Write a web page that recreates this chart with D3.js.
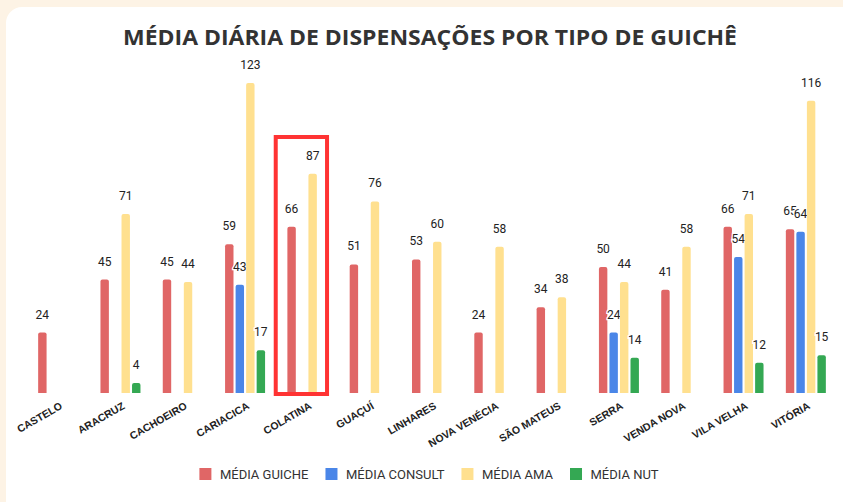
<!DOCTYPE html>
<html>
<head>
<meta charset="utf-8">
<script src="https://cdn.jsdelivr.net/npm/d3@7"></script>
<style>
  html, body { margin: 0; padding: 0; background: #fdf3e5; }
  svg { display: block; }
</style>
</head>
<body>
<svg id="chart" width="843" height="502"></svg>
<script>
// data
const categories = ["CASTELO", "ARACRUZ", "CACHOEIRO", "CARIACICA", "COLATINA", "GUAÇUÍ", "LINHARES",
    "NOVA VENÉCIA", "SÃO MATEUS", "SERRA", "VENDA NOVA", "VILA VELHA", "VITÓRIA"];
const seriesNames = ["MÉDIA GUICHE", "MÉDIA CONSULT", "MÉDIA AMA", "MÉDIA NUT"];
const mediaGuiche  = [24, 45, 45, 59, 66, 51, 53, 24, 34, 50, 41, 66, 65];
const mediaConsult = [null, null, null, 43, null, null, null, null, null, 24, null, 54, 64];
const mediaAma     = [null, 71, 44, 123, 87, 76, 60, 58, 38, 44, 58, 71, 116];
const mediaNut     = [null, 4, null, 17, null, null, null, null, null, 14, null, 12, 15];
const highlighted = "COLATINA";

const colors = ["#e06666", "#4a86e8", "#ffe08f", "#34a853"];
const series = [mediaGuiche, mediaConsult, mediaAma, mediaNut];

const svg = d3.select("#chart");
const baseline = 393;

// white card
svg.append("rect")
    .attr("x", 6).attr("y", 7)
    .attr("width", 860).attr("height", 510)
    .attr("rx", 16)
    .attr("fill", "#ffffff");

svg.append("text")
    .attr("x", 430).attr("y", 45)
    .attr("text-anchor", "middle")
    .attr("font-family", "Open Sans")
    .attr("font-weight", "bold")
    .attr("font-size", "22px")
    .attr("textLength", 614)
    .attr("lengthAdjust", "spacingAndGlyphs")
    .attr("fill", "#333333")
    .text("MÉDIA DIÁRIA DE DISPENSAÇÕES POR TIPO DE GUICHÊ");

const x0 = d3.scaleBand()
    .domain(categories)
    .range([27, 837])
    .padding(0);

const x1 = d3.scaleBand()
    .domain(d3.range(seriesNames.length))
    .range([x0.bandwidth() / 2 - 20, x0.bandwidth() / 2 + 20])
    .paddingInner(0.2);

const y = d3.scaleLinear()
    .domain([0, 130])
    .range([baseline, baseline - 130 * 2.52]);

const rows = categories.map((c, i) => ({
    category: c,
    values: series.map((s, k) => ({ key: k, value: s[i] }))
}));

const groups = svg.append("g").selectAll("g")
    .data(rows)
    .join("g")
    .attr("transform", d => `translate(${x0(d.category)},0)`);

const bars = groups.selectAll("g.bar")
    .data(d => d.values.filter(v => v.value !== null))
    .join("g")
    .attr("class", "bar");

// bar with rounded top only
bars.append("path")
    .attr("fill", d => colors[d.key])
    .attr("d", d => {
        const xl = x1(d.key), w = x1.bandwidth(), top = y(d.value), r = 2;
        return `M${xl},${baseline}V${top + r}Q${xl},${top} ${xl + r},${top}H${xl + w - r}Q${xl + w},${top} ${xl + w},${top + r}V${baseline}Z`;
    });

bars.append("text")
    .attr("x", d => x1(d.key) + x1.bandwidth() / 2)
    .attr("y", d => y(d.value) - 14)
    .attr("text-anchor", "middle")
    .attr("font-family", "Roboto")
    .attr("font-size", "12px")
    .attr("fill", "#222222")
    .attr("stroke", "#ffffff")
    .attr("stroke-width", 2.5)
    .attr("paint-order", "stroke")
    .text(d => d.value);

// category labels
svg.append("g").selectAll("text")
    .data(categories)
    .join("text")
    .attr("transform", d => `translate(${x0(d) + x0.bandwidth() / 2 + 5},${baseline + 15}) rotate(-30)`)
    .attr("text-anchor", "end")
    .attr("font-family", "Liberation Sans")
    .attr("font-weight", "bold")
    .attr("font-size", "10.5px")
    .attr("fill", "#222222")
    .text(d => d);

// highlight box
svg.append("rect")
    .attr("x", x0(highlighted) - 0.5)
    .attr("y", 137)
    .attr("width", x0.bandwidth() - 11)
    .attr("height", baseline + 1 - 137)
    .attr("fill", "none")
    .attr("stroke", "#ff3333")
    .attr("stroke-width", 4);

// legend
const legend = svg.append("g");
let lx = 0;
seriesNames.forEach((name, i) => {
    const item = legend.append("g").attr("transform", `translate(${lx},0)`);
    item.append("rect")
        .attr("x", 0).attr("y", -6)
        .attr("width", 12).attr("height", 12)
        .attr("fill", colors[i]);
    const t = item.append("text")
        .attr("x", 20.5).attr("y", 4.5)
        .attr("font-family", "Roboto")
        .attr("font-size", "13px")
        .attr("fill", "#333333")
        .text(name);
    lx += 20.5 + t.node().getComputedTextLength() + 17;
});
const legendWidth = lx - 17;
legend.attr("transform", `translate(${429 - legendWidth / 2},474)`);
</script>
</body>
</html>
